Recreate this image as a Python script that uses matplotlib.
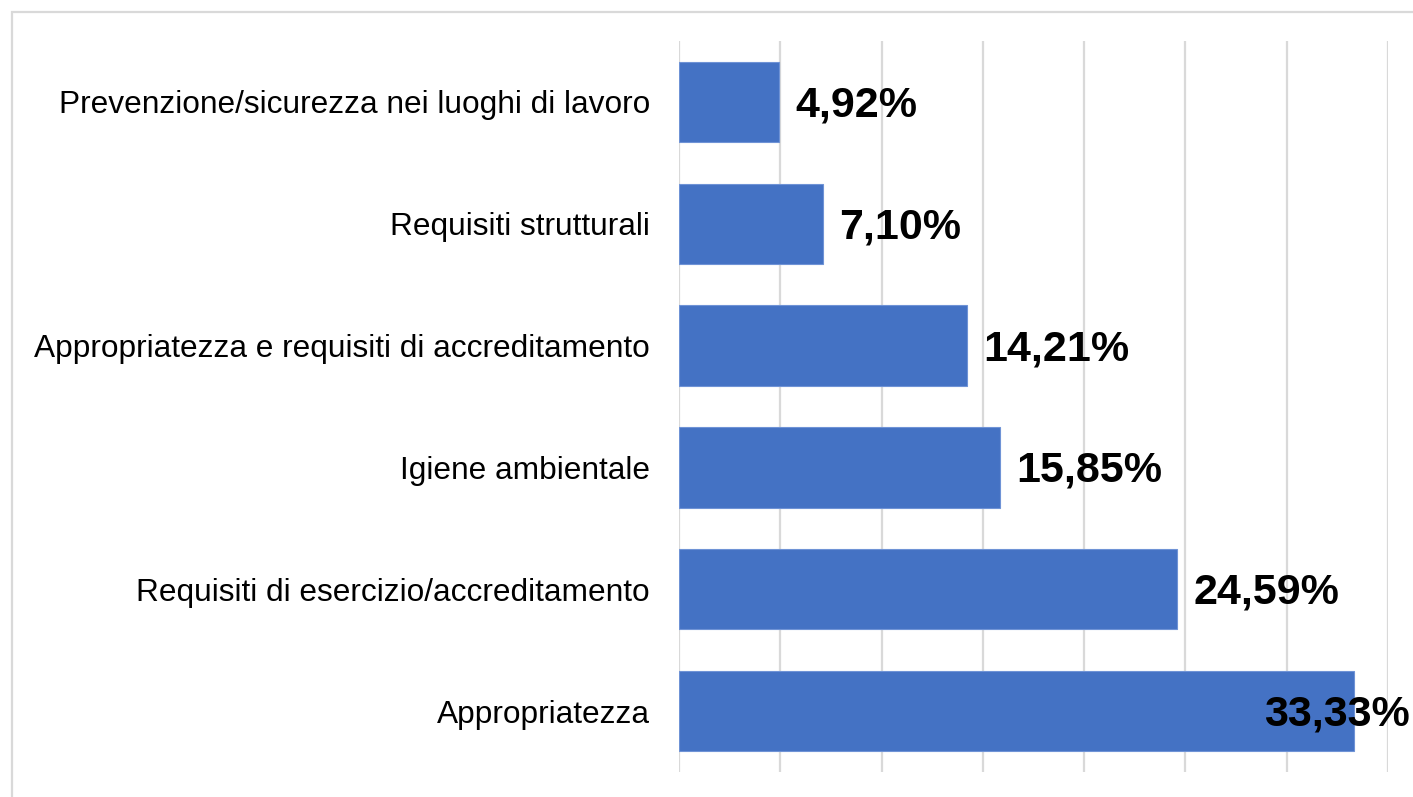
import matplotlib
matplotlib.use("Agg")
import matplotlib.pyplot as plt
import matplotlib.transforms as mtransforms
from matplotlib.patches import Rectangle

categories = [
    "Prevenzione/sicurezza nei luoghi di lavoro",
    "Requisiti strutturali",
    "Appropriatezza e requisiti di accreditamento",
    "Igiene ambientale",
    "Requisiti di esercizio/accreditamento",
    "Appropriatezza",
]
values = [4.92, 7.10, 14.21, 15.85, 24.59, 33.33]
value_labels = ["4,92%", "7,10%", "14,21%", "15,85%", "24,59%", "33,33%"]

W, H = 1413, 797
fig = plt.figure(figsize=(W / 100, H / 100), dpi=100)
plt.rcParams['font.family'] = ['Liberation Sans', 'DejaVu Sans']

ax = fig.add_axes([679 / W, 1 - 772 / H, (1388 - 679) / W, (772 - 41) / H])

ypos = list(range(len(categories)))
ax.barh(ypos, values, height=0.66, color="#4472C4", edgecolor="#6f93d6", linewidth=0.8, zorder=3)
ax.set_ylim(len(categories) - 0.5, -0.5)
ax.set_xlim(0, 35)
ax.set_xticks([0, 5, 10, 15, 20, 25, 30, 35])
ax.set_xticklabels([])
ax.tick_params(axis='x', length=0)
ax.tick_params(axis='y', length=0, pad=21, labelsize=22.8)
ax.set_yticks(ypos)
ax.set_yticklabels(categories)
ax.grid(axis='x', color="#d9d9d9", linewidth=1.6, zorder=0)
for s in ax.spines.values():
    s.set_visible(False)

blend = mtransforms.blended_transform_factory(fig.transFigure, ax.transData)
for i, (v, lab) in enumerate(zip(values, value_labels)):
    if i == len(values) - 1:
        ax.annotate(lab, xy=(1410 / W, i), xycoords=blend, xytext=(0, -2.5),
                    textcoords='offset points', ha='right', va='center',
                    fontsize=31, fontweight='bold', zorder=5, annotation_clip=False)
    else:
        ax.annotate(lab, xy=(v, i), xytext=(12, -2.5), textcoords='offset points',
                    ha='left', va='center', fontsize=31, fontweight='bold', zorder=5)

fig.patches.append(Rectangle((12 / W, -0.1), 1.2, 1 - 12 / H + 0.1, transform=fig.transFigure,
                             fill=False, edgecolor="#d9d9d9", linewidth=1.6))

fig.savefig("out.png", dpi=100)
